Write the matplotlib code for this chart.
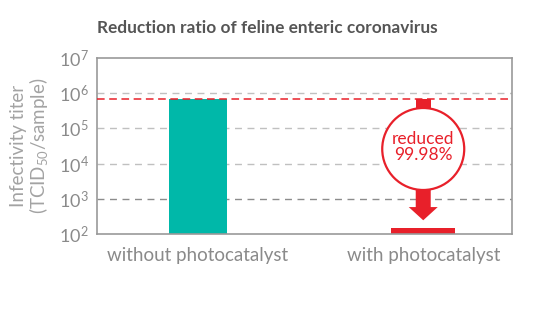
import matplotlib
matplotlib.use("Agg")
import matplotlib.pyplot as plt
from matplotlib.patches import Ellipse, Polygon
import numpy as np

categories = ["without photocatalyst", "with photocatalyst"]
values = [7.0e5, 1.5e2]
title = "Reduction ratio of feline enteric coronavirus"
reduction_label = "reduced\n99.98%"
ytick_vals = [1e2, 1e3, 1e4, 1e5, 1e6, 1e7]
ytick_labels = ["$10^{2}$", "$10^{3}$", "$10^{4}$", "$10^{5}$", "$10^{6}$", "$10^{7}$"]
grid_vals = [1e3, 1e4, 1e5, 1e6]
grid_colors = ["#8c8c8c", "#c0c0c0", "#c0c0c0", "#c0c0c0"]

plt.rcParams['font.family'] = ['Lato', 'DejaVu Sans']
plt.rcParams['mathtext.fontset'] = 'custom'
plt.rcParams['mathtext.rm'] = 'Lato'
plt.rcParams['mathtext.default'] = 'regular'

TEAL = "#00b8a9"
RED = "#e8202a"
GRAY = "#8a8a8a"

fig = plt.figure(figsize=(5.5, 3.1), dpi=100)
ax = fig.add_axes([97/550, 76/310, 415/550, 176/310])
ax.set_yscale('log')
ax.set_ylim(1e2, 1e7)
ax.set_xlim(-0.448, 1.394)

for v, c in zip(grid_vals, grid_colors):
    ax.axhline(v, color=c, lw=1, ls=(0, (5, 4)), zorder=1)

x = np.arange(len(categories))
ax.bar(x[0], values[0] - 1e2, bottom=1e2, width=0.26, color=TEAL, zorder=2)
ax.bar(x[1], values[1] - 1e2, bottom=1e2, width=0.285, color=RED, zorder=2)
ax.axhline(values[0], color=RED, lw=1.1, ls=(0, (5, 3)), zorder=3)

# arrow + circle annotation (axes coordinates)
cx = (x[1] - ax.get_xlim()[0]) / (ax.get_xlim()[1] - ax.get_xlim()[0])
ytop = (np.log10(values[0]) - 2) / 5
cy = 0.483
rw, rh = 41/415, 41/176
sw = 7.5/415
hw = 14.5/415
stem_top = Polygon([[cx - sw, ytop], [cx + sw, ytop], [cx + sw, cy + rh - 0.01], [cx - sw, cy + rh - 0.01]],
                   closed=True, transform=ax.transAxes, color=RED, zorder=4, lw=0)
ax.add_patch(stem_top)
y_stem_end = 0.153
y_head_end = 0.078
arrow_bottom = Polygon([[cx - sw, cy - rh + 0.01], [cx + sw, cy - rh + 0.01], [cx + sw, y_stem_end],
                        [cx + hw, y_stem_end], [cx, y_head_end], [cx - hw, y_stem_end], [cx - sw, y_stem_end]],
                       closed=True, transform=ax.transAxes, color=RED, zorder=4, lw=0)
ax.add_patch(arrow_bottom)
circ = Ellipse((cx, cy), 2*rw, 2*rh, transform=ax.transAxes, facecolor='white', edgecolor=RED, lw=1.6, zorder=5)
ax.add_patch(circ)
ax.text(cx, cy + 0.01, reduction_label, transform=ax.transAxes, ha='center', va='center',
        color=RED, fontsize=12.5, linespacing=1.0, zorder=6)

ax.set_yticks(ytick_vals)
ax.set_yticklabels(ytick_labels)
ax.yaxis.set_minor_locator(matplotlib.ticker.NullLocator())
ax.set_xticks(x)
ax.set_xticklabels(categories)
ax.tick_params(axis='both', length=0, colors=GRAY)
ax.tick_params(axis='y', pad=6, labelsize=13)
ax.tick_params(axis='x', pad=9, labelsize=13.5)
for s in ax.spines.values():
    s.set_color("#999999")
    s.set_linewidth(1.2)

ax.set_ylabel("Infectivity titer\n(TCID$_{50}$/sample)", color="#a3a3a3", fontsize=13.5,
              linespacing=1.0, labelpad=6)

fig.text(97/550, 1 - 28/310, title, ha='left', va='center', fontsize=12.4,
         fontweight='bold', color="#555555")

fig.savefig("out.png", dpi=100)
